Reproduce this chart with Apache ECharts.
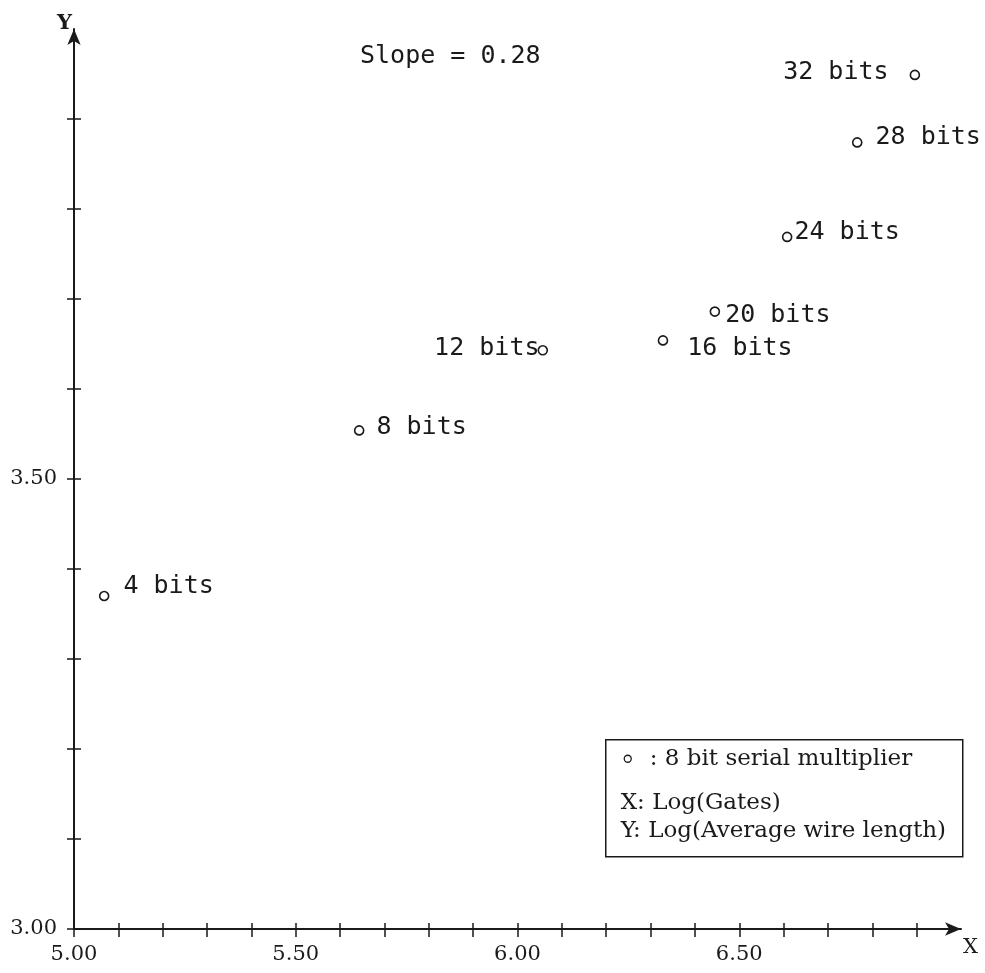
<!DOCTYPE html>
<html>
<head>
<meta charset="utf-8">
<script src="https://cdn.jsdelivr.net/npm/echarts@6/dist/echarts.min.js"></script>
<style>
  html, body { margin: 0; padding: 0; background: #fff; }
  #chart { width: 985px; height: 973px; }
</style>
</head>
<body>
<div id="chart"></div>
<script>
// multiplier sizes and their measured log values
const names = ['4 bits', '8 bits', '12 bits', '16 bits', '20 bits', '24 bits', '28 bits', '32 bits'];
const logGates = [5.068, 5.643, 6.057, 6.328, 6.445, 6.608, 6.766, 6.896];
const logWire = [3.370, 3.554, 3.643, 3.654, 3.686, 3.769, 3.874, 3.949];

const xTicks = [5.0, 5.1, 5.2, 5.3, 5.4, 5.5, 5.6, 5.7, 5.8, 5.9, 6.0, 6.1, 6.2, 6.3, 6.4, 6.5, 6.6, 6.7, 6.8, 6.9];
const xLabels = [5.0, 5.5, 6.0, 6.5];
const yTicks = [3.0, 3.1, 3.2, 3.3, 3.4, 3.5, 3.6, 3.7, 3.8, 3.9];
const yLabels = [3.0, 3.5];

const slopeText = 'Slope = 0.28';

// where each point label sits relative to its circle
const labelPlace = {
  '4 bits':  { position: 'right', offset: [9, -10] },
  '8 bits':  { position: 'right', offset: [7, -3] },
  '12 bits': { position: 'left',  offset: [7, -2] },
  '16 bits': { position: 'right', offset: [14, 8] },
  '20 bits': { position: 'right', offset: [0, 4] },
  '24 bits': { position: 'right', offset: [-3, -4] },
  '28 bits': { position: 'right', offset: [8, -5] },
  '32 bits': { position: 'left',  offset: [-16, -2] }
};

const ink = '#1a1a1a';
const serif = '"DejaVu Serif", "Liberation Serif", serif';
const mono = '"DejaVu Sans Mono", "Liberation Mono", monospace';

const points = names.map((n, i) => ({
  value: [logGates[i], logWire[i]],
  name: n,
  label: labelPlace[n]
}));

const fmt = v => Number(v).toFixed(2);

const chart = echarts.init(document.getElementById('chart'));
chart.setOption({
  animation: false,
  backgroundColor: '#fff',
  grid: { left: 74, right: 24, top: 29, bottom: 44 },
  xAxis: [
    {
      type: 'value', min: 5, max: 7, position: 'bottom',
      name: 'X', nameLocation: 'end', nameGap: 2,
      nameTextStyle: { fontFamily: serif, fontSize: 21, color: ink, verticalAlign: 'top', padding: [8, 0, 0, 0] },
      axisLine: { show: true, symbol: ['none', 'arrow'], symbolSize: [10, 16], lineStyle: { color: ink, width: 2 } },
      axisTick: { show: true, length: 8, customValues: xTicks, lineStyle: { color: ink, width: 1.5 } },
      axisLabel: { customValues: xLabels, formatter: fmt, margin: 15, fontFamily: serif, fontSize: 21, color: ink },
      splitLine: { show: false }
    },
    {
      type: 'value', min: 5, max: 7, position: 'bottom',
      axisLine: { show: false },
      axisTick: { show: true, inside: true, length: 6, customValues: xTicks, lineStyle: { color: ink, width: 1.5 } },
      axisLabel: { show: false },
      splitLine: { show: false }
    }
  ],
  yAxis: [
    {
      type: 'value', min: 3, max: 4, position: 'left',
      name: 'Y', nameLocation: 'end', nameGap: -5,
      nameTextStyle: { fontFamily: serif, fontSize: 21, fontWeight: 'bold', color: ink, align: 'right', padding: [0, 2, 0, 0] },
      axisLine: { show: true, symbol: ['none', 'arrow'], symbolSize: [10, 16], lineStyle: { color: ink, width: 2 } },
      axisTick: { show: true, length: 7, customValues: yTicks, lineStyle: { color: ink, width: 1.5 } },
      axisLabel: { customValues: yLabels, formatter: fmt, margin: 17, fontFamily: serif, fontSize: 21, color: ink },
      splitLine: { show: false }
    },
    {
      type: 'value', min: 3, max: 4, position: 'left',
      axisLine: { show: false },
      axisTick: { show: true, inside: true, length: 7, customValues: yTicks, lineStyle: { color: ink, width: 1.5 } },
      axisLabel: { show: false },
      splitLine: { show: false }
    }
  ],
  series: [
    {
      type: 'scatter',
      xAxisIndex: 0,
      yAxisIndex: 0,
      symbol: 'circle',
      symbolSize: 9,
      itemStyle: { color: '#fff', borderColor: ink, borderWidth: 1.6, opacity: 1 },
      label: {
        show: true,
        formatter: p => p.name,
        fontFamily: mono,
        fontSize: 25,
        color: ink
      },
      data: points
    }
  ],
  graphic: [
    {
      type: 'text', left: 360, top: 44,
      style: { text: slopeText, font: '25px ' + mono, fill: ink }
    },
    {
      type: 'group', left: 605, top: 739,
      children: [
        { type: 'rect', shape: { x: 0, y: 0, width: 357, height: 117 }, style: { fill: '#fff', stroke: ink, lineWidth: 1.5 } },
        { type: 'circle', shape: { cx: 22, cy: 19, r: 3.5 }, style: { fill: 'none', stroke: ink, lineWidth: 1.3 } },
        { type: 'text', x: 44, y: 19, style: { text: ': 8 bit serial multiplier', font: '23px ' + serif, fill: ink, verticalAlign: 'middle' } },
        { type: 'text', x: 15, y: 63, style: { text: 'X: Log(Gates)', font: '23px ' + serif, fill: ink, verticalAlign: 'middle' } },
        { type: 'text', x: 15, y: 91, style: { text: 'Y: Log(Average wire length)', font: '23px ' + serif, fill: ink, verticalAlign: 'middle' } }
      ]
    }
  ]
});
</script>
</body>
</html>
